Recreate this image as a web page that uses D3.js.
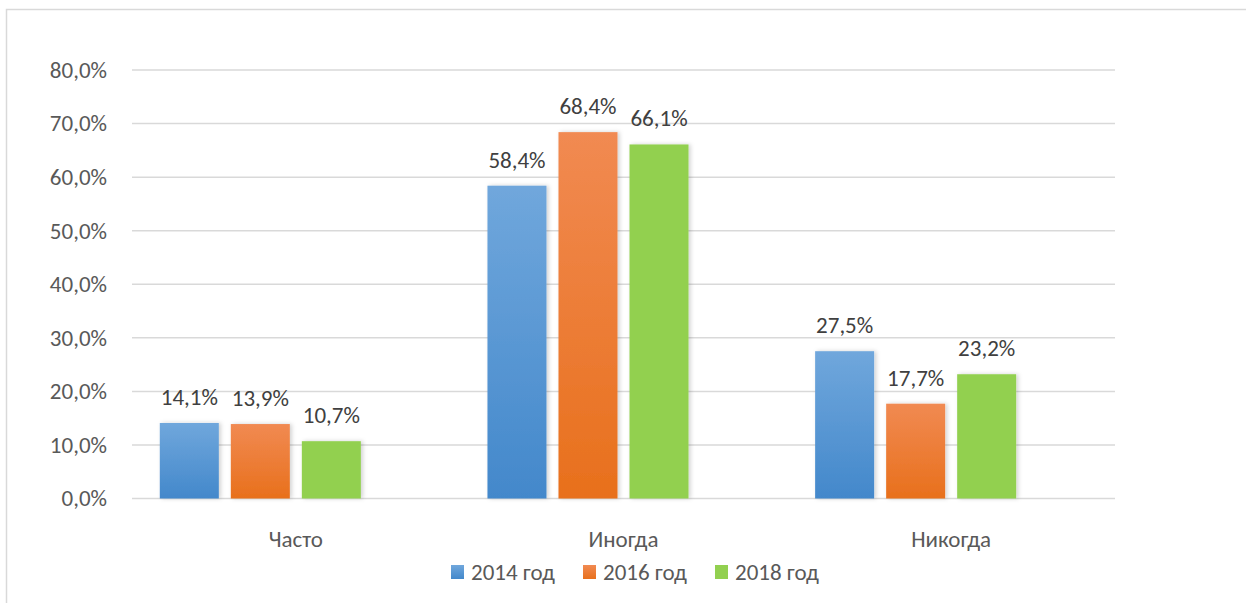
<!DOCTYPE html>
<html>
<head>
<meta charset="utf-8">
<script src="https://cdn.jsdelivr.net/npm/d3@7"></script>
<style>
  html, body { margin: 0; padding: 0; background: #fff; }
  svg { display: block; }
  text { font-family: Carlito, Calibri, Lato, "Open Sans", sans-serif; }
</style>
</head>
<body>
<svg id="chart" width="1246" height="603"></svg>
<script>
// Answer categories and survey shares (%) per year
const categories = ["Часто", "Иногда", "Никогда"];
const seriesNames = ["2014 год", "2016 год", "2018 год"];
const values2014 = [14.1, 58.4, 27.5];
const values2016 = [13.9, 68.4, 17.7];
const values2018 = [10.7, 66.1, 23.2];
const yTicks = [0, 10, 20, 30, 40, 50, 60, 70, 80];

const seriesValues = [values2014, values2016, values2018];
const series = seriesNames.map((name, i) => ({ name, values: seriesValues[i] }));

const W = 1246, H = 603;
const plot = { left: 132, right: 1115, top: 70, bottom: 498.5 };
const FONT = "Carlito, Calibri, Lato, sans-serif";
const FS = "23px";

const svg = d3.select("#chart");
const defs = svg.append("defs");

// Bar fills: soft vertical gradients for blue and orange, flat green
const fills = [
  { id: "g2014", top: "#70a7dc", bottom: "#4388cb" },
  { id: "g2016", top: "#f18a52", bottom: "#e8701c" },
  { id: "g2018", top: "#92d050", bottom: "#92d050" }
];
fills.forEach(f => {
  const g = defs.append("linearGradient").attr("id", f.id)
    .attr("x1", 0).attr("y1", 0).attr("x2", 0).attr("y2", 1);
  g.append("stop").attr("offset", "0%").attr("stop-color", f.top);
  g.append("stop").attr("offset", "100%").attr("stop-color", f.bottom);
});

const shadow = defs.append("filter").attr("id", "barShadow")
  .attr("x", "-20%").attr("y", "-10%").attr("width", "140%").attr("height", "120%");
shadow.append("feDropShadow").attr("dx", 2).attr("dy", 0).attr("stdDeviation", 2.2)
  .attr("flood-color", "#000").attr("flood-opacity", 0.18);

// Chart frame (top and left edges)
svg.append("path")
  .attr("d", `M6.5,${H} V9.5 H${W}`)
  .attr("fill", "none").attr("stroke", "#d9d9d9").attr("stroke-width", 1.5);

const y = d3.scaleLinear().domain([0, 80]).range([plot.bottom, plot.top]);
const x0 = d3.scaleBand().domain(categories).range([plot.left, plot.right]).padding(0);
// Four slots per group; the last slot stays empty
const groupPad = 27.8;
const x1 = d3.scaleBand().domain(d3.range(4))
  .range([groupPad, x0.bandwidth() - groupPad]).paddingInner(0.169).paddingOuter(0);

// Gridlines
svg.append("g").selectAll("line").data(yTicks).join("line")
  .attr("x1", plot.left).attr("x2", plot.right)
  .attr("y1", d => y(d)).attr("y2", d => y(d))
  .attr("stroke", "#d9d9d9").attr("stroke-width", 1.5);

// Y axis labels
const yAxis = d3.axisLeft(y).tickValues(yTicks).tickSize(0).tickPadding(0)
  .tickFormat(d => d3.format(".1f")(d).replace(".", ",") + "%");
const yg = svg.append("g").attr("transform", `translate(107,0)`).call(yAxis);
yg.select(".domain").remove();
yg.selectAll("text").attr("fill", "#595959").style("font-size", FS)
  .style("font-family", FONT);

// Bars
const groups = svg.append("g").selectAll("g").data(series).join("g");
groups.each(function (s, si) {
  const g = d3.select(this);
  const recs = s.values.map((v, ci) => ({ v, cat: categories[ci] }));
  g.selectAll("rect").data(recs).join("rect")
    .attr("x", d => x0(d.cat) + x1(si))
    .attr("width", x1.bandwidth())
    .attr("y", d => y(d.v))
    .attr("height", d => y(0) - y(d.v))
    .attr("fill", `url(#${fills[si].id})`)
    .attr("filter", "url(#barShadow)");
  g.selectAll("text").data(recs).join("text")
    .attr("x", d => x0(d.cat) + x1(si) + x1.bandwidth() / 2)
    .attr("y", d => y(d.v) - 18)
    .attr("text-anchor", "middle")
    .attr("fill", "#404040").style("font-size", FS)
    .text(d => d3.format(".1f")(d.v).replace(".", ",") + "%");
});

// Category labels
const xAxis = d3.axisBottom(x0).tickSize(0).tickPadding(0);
const xg = svg.append("g").attr("transform", `translate(0,${plot.bottom + 48})`).call(xAxis);
xg.select(".domain").remove();
xg.selectAll("text").attr("fill", "#595959").attr("dy", 0).style("font-size", FS)
  .style("font-family", FONT);

// Legend
const legendX = [451, 583, 715];
const legend = svg.append("g").selectAll("g").data(series).join("g")
  .attr("transform", (d, i) => `translate(${legendX[i]},565)`);
legend.append("rect").attr("width", 13).attr("height", 14)
  .attr("fill", (d, i) => `url(#${fills[i].id})`);
legend.append("text").attr("x", 20).attr("y", 15)
  .attr("fill", "#595959").style("font-size", FS)
  .text(d => d.name);
</script>
</body>
</html>
